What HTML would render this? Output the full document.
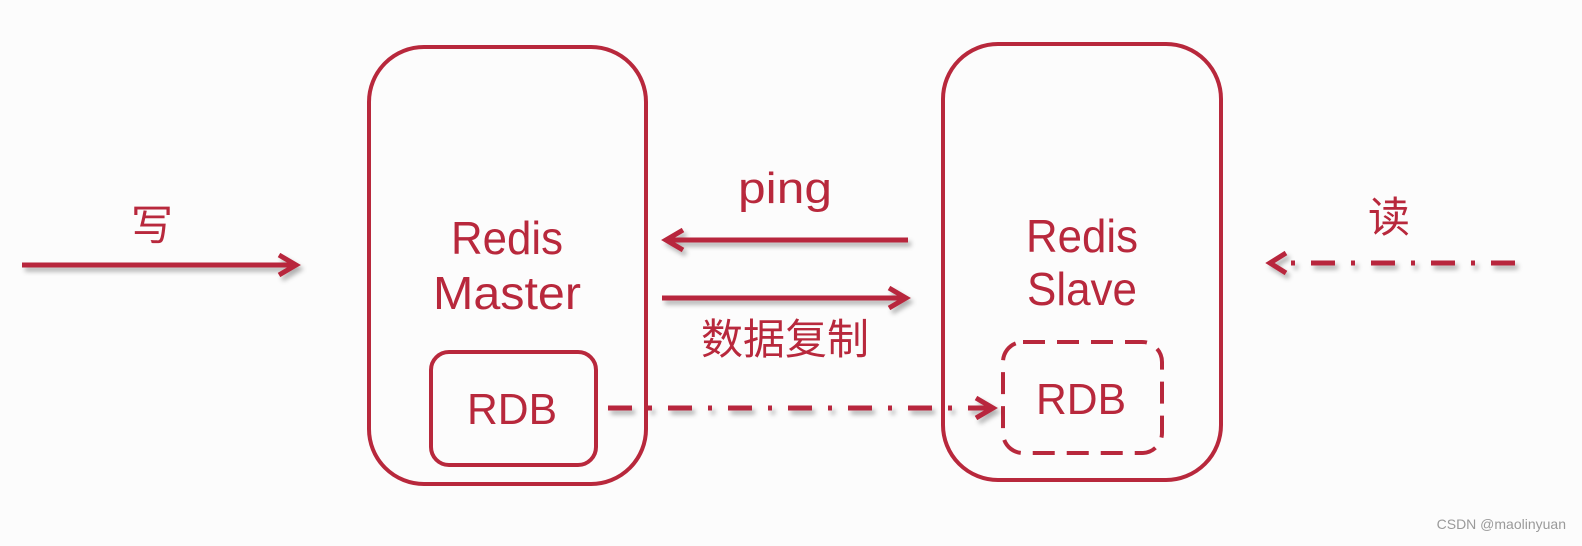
<!DOCTYPE html>
<html><head><meta charset="utf-8"><style>
html,body{margin:0;padding:0;background:#fcfcfc;}
svg{display:block;}
text{font-family:"Liberation Sans","Noto Sans CJK SC",sans-serif;fill:#b8283c;}
</style></head><body>
<svg width="1582" height="546" viewBox="0 0 1582 546" xmlns="http://www.w3.org/2000/svg">
<defs>
<filter id="sh" x="-10%" y="-50%" width="120%" height="200%">
<feDropShadow dx="3" dy="4" stdDeviation="2.5" flood-color="#000" flood-opacity="0.3"/>
</filter>
</defs>
<g fill="none" stroke="#b8283c" stroke-width="4">
<rect x="369" y="47" width="277" height="437" rx="55"/>
<rect x="943" y="44" width="278" height="436" rx="55"/>
<rect x="431" y="352" width="165" height="113" rx="18"/>
<rect x="1003" y="342" width="159" height="111" rx="20" stroke-dasharray="22,12"/>
</g>
<g stroke="#b8283c" stroke-width="5" fill="none" filter="url(#sh)" stroke-linecap="butt">
<line x1="22" y1="265" x2="294" y2="265"/>
<polyline points="279,255 296,265 279,275" stroke-linejoin="miter"/>
<line x1="908" y1="240" x2="668" y2="240"/>
<polyline points="683,230 666,240 683,250"/>
<line x1="662" y1="298" x2="904" y2="298"/>
<polyline points="889,288 906,298 889,308"/>
<line x1="608" y1="408" x2="990" y2="408" stroke-dasharray="24,16,4,16"/>
<polyline points="976,398 993,408 976,418"/>
<line x1="1515" y1="263" x2="1275" y2="263" stroke-dasharray="24,16,4,16"/>
<polyline points="1286,253 1270,263 1286,273"/>
</g>
<g text-anchor="middle">
<text x="152" y="240" font-size="42">写</text>
<text x="785" y="203" font-size="44" textLength="94" lengthAdjust="spacingAndGlyphs">ping</text>
<text x="507" y="254" font-size="46" textLength="112" lengthAdjust="spacingAndGlyphs">Redis</text>
<text x="507" y="309" font-size="46" textLength="148" lengthAdjust="spacingAndGlyphs">Master</text>
<text x="785" y="354" font-size="42">数据复制</text>
<text x="512" y="424" font-size="44" textLength="90" lengthAdjust="spacingAndGlyphs">RDB</text>
<text x="1082" y="252" font-size="46" textLength="112" lengthAdjust="spacingAndGlyphs">Redis</text>
<text x="1082" y="305" font-size="46" textLength="110" lengthAdjust="spacingAndGlyphs">Slave</text>
<text x="1081" y="414" font-size="44" textLength="90" lengthAdjust="spacingAndGlyphs">RDB</text>
<text x="1389" y="232" font-size="42">读</text>
</g>
<text x="1566" y="529" font-size="14" text-anchor="end" style="fill:#9a9a9a">CSDN @maolinyuan</text>
</svg>
</body></html>
